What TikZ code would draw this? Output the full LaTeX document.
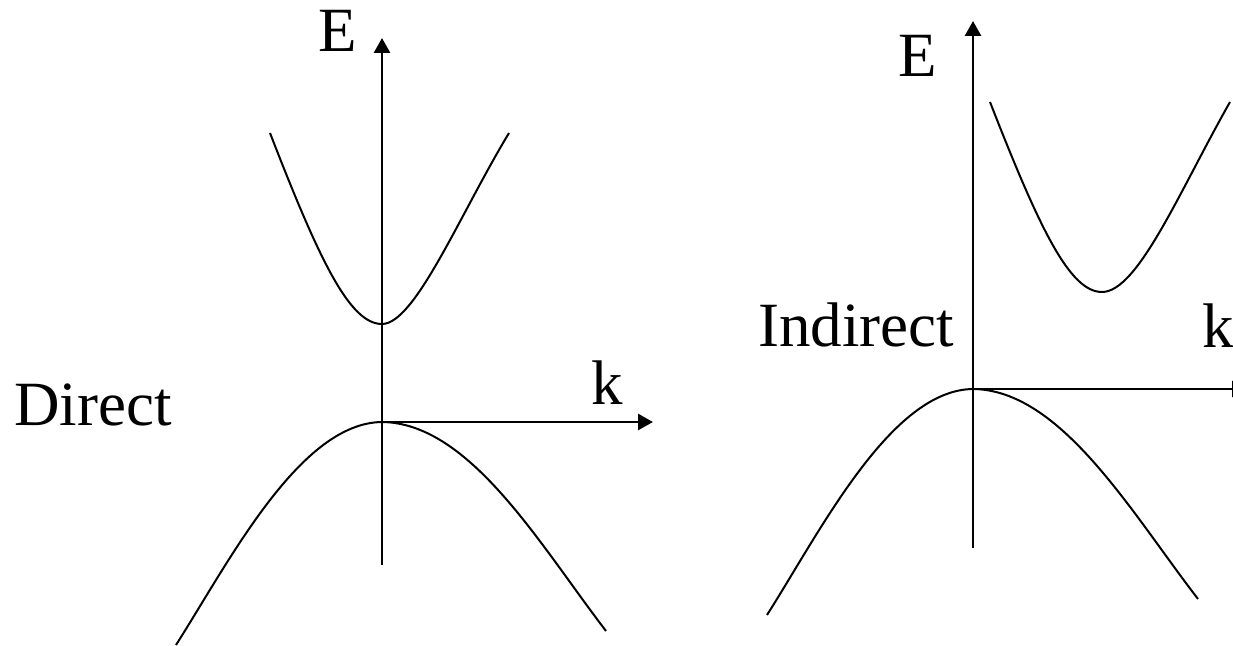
\documentclass[tikz,border=0pt]{standalone}
\usepackage{fontspec}
\setmainfont{Liberation Serif}
\usetikzlibrary{arrows.meta}

\begin{document}
\begin{tikzpicture}[
  x=0.5pt, y=-0.5pt,
  axis/.style={line width=1.4pt, -{Triangle[length=7.5pt, width=8pt]}},
  band/.style={line width=1pt},
  lbl/.style={anchor=base west, inner sep=0pt, font=\fontsize{31.5}{36}\selectfont},
]
\useasboundingbox (0,0) rectangle (1233,646);

% direct gap
\coordinate (ybotA) at (382,565);
\coordinate (ytopA) at (382,38);
\coordinate (oA)    at (382,422);
\coordinate (kA)    at (653,422);
\draw[axis] (ybotA) -- (ytopA);
\draw[axis] (oA) -- (kA);
\node[lbl] (eA) at (318,52) {E};
\node[lbl] (klA) at (591,405) {k};
\node[lbl] (dir) at (14,426) {Direct};
\coordinate (cbA) at (382,324);
\draw[band] (270,133) .. controls (320,262) and (350,324) .. (cbA)
  .. controls (415,324) and (460,214) .. (509,133);
\draw[band] (176,645) .. controls (230,560) and (300,423) .. (oA)
  .. controls (470,423) and (540,545) .. (606,631);

% indirect gap
\coordinate (ybotB) at (973,548);
\coordinate (ytopB) at (973,21);
\coordinate (oB)    at (973,389);
\coordinate (kB)    at (1247,389);
\draw[axis] (ybotB) -- (ytopB);
\draw[axis] (oB) -- (kB);
\node[lbl] (eB) at (898,77) {E};
\node[lbl] (klB) at (1202,348) {k};
\node[lbl] (ind) at (758,347) {Indirect};
\coordinate (cbB) at (1102,292);
\draw[band] (990,102) .. controls (1040,230) and (1070,292) .. (cbB)
  .. controls (1138,292) and (1180,190) .. (1230,102);
\draw[band] (767,615) .. controls (821,530) and (891,390) .. (oB)
  .. controls (1061,390) and (1131,512) .. (1198,599);
\end{tikzpicture}
\end{document}
